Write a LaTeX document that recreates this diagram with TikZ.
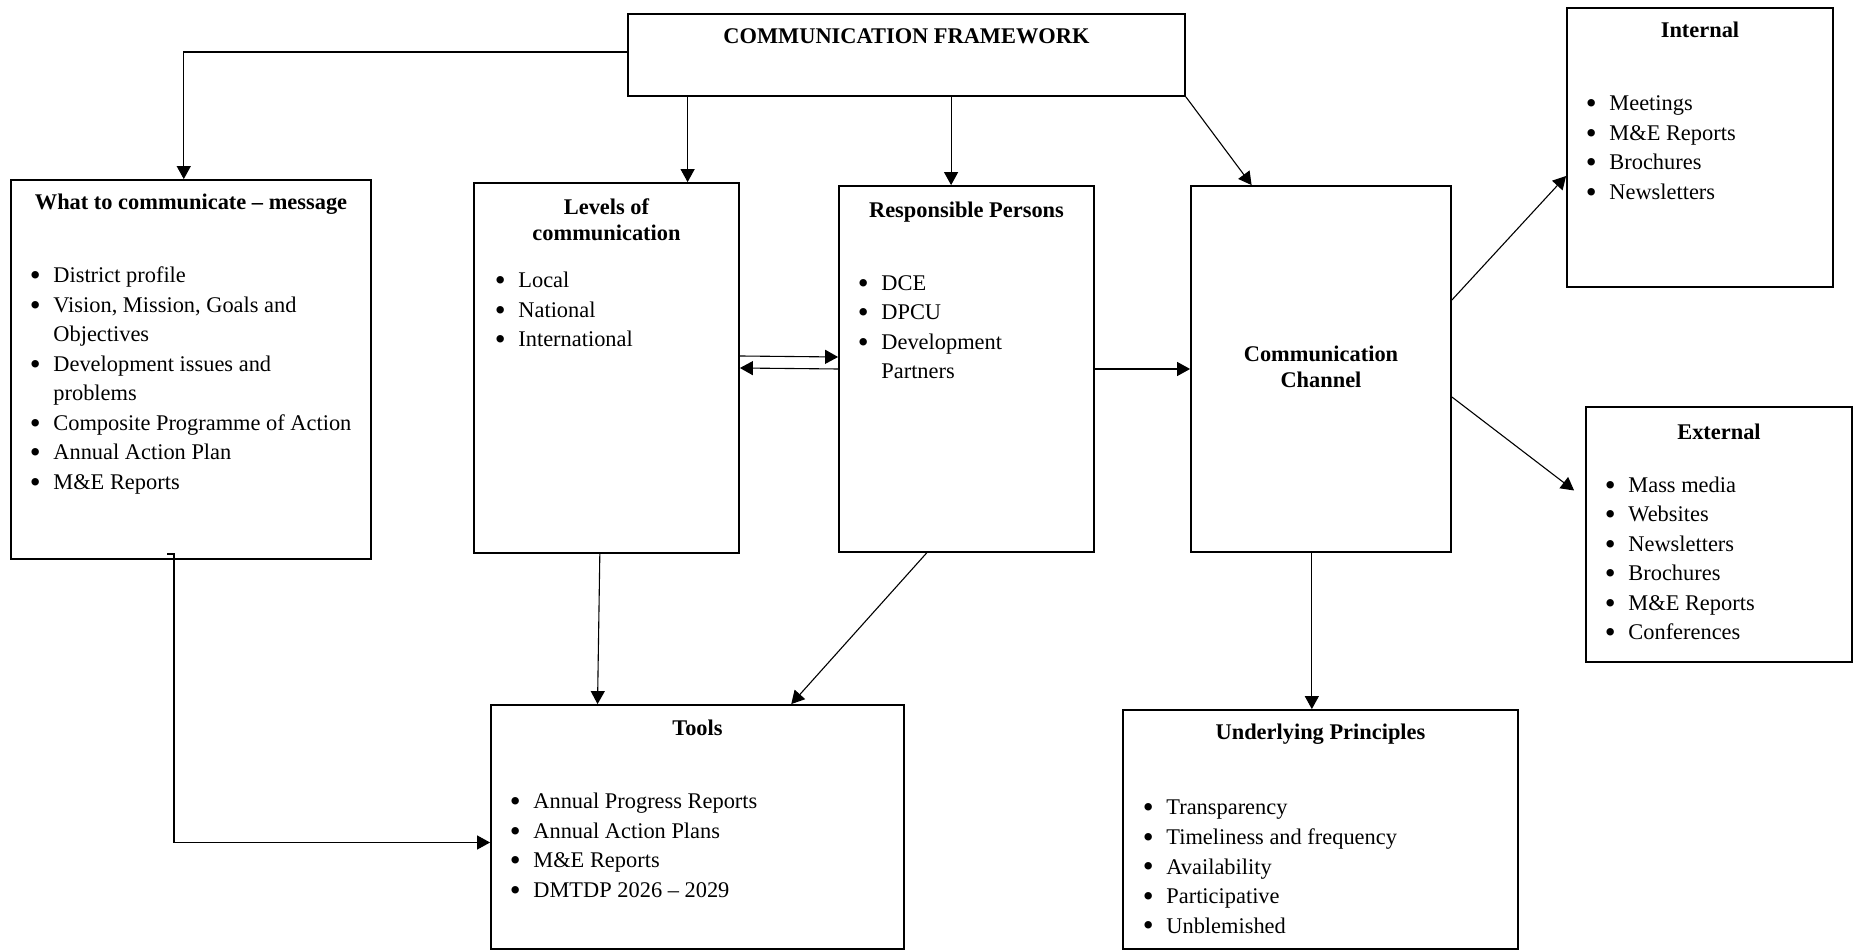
\documentclass[tikz,border=0pt]{standalone}
\usepackage{fontspec}
\setmainfont{Liberation Serif}
\usetikzlibrary{arrows.meta,fit,calc}
\newcommand{\blt}{\llap{\raisebox{-1.5pt}{\fontsize{15.5pt}{15.5pt}\selectfont\textbullet}\hspace{6.3pt}}}
\begin{document}
\begin{tikzpicture}[x=0.5pt,y=-0.5pt,
  box/.style={draw, line width=0.9pt, inner sep=0pt},
  conn/.style={line width=0.55pt, -{Triangle[length=6.5pt,width=7pt]}},
  ttl/.style={anchor=base, inner sep=0pt, font=\fontsize{11.2pt}{12.75pt}\selectfont\bfseries},
  lst/.style={anchor=base west, inner sep=0pt, font=\fontsize{11.2pt}{14.75pt}\selectfont}]
\useasboundingbox[fill=white] (0,0) rectangle (1854,951);

% boxes
\node[box, fit={(628,14) (1185,96)}] (top) {};
\node[box, fit={(11,180) (371,559)}] (msg) {};
\node[box, fit={(474,183) (739,553)}] (lev) {};
\node[box, fit={(839,186) (1094,552)}] (res) {};
\node[box, fit={(1191,186) (1451,552)}] (chn) {};
\node[box, fit={(1567,8) (1833,287)}] (int) {};
\node[box, fit={(1586,407) (1852,662)}] (ext) {};
\node[box, fit={(491,705) (904,949)}] (tool) {};
\node[box, fit={(1123,710) (1518,949)}] (und) {};

% titles
\node[ttl] (topt) at (906.5,44) {COMMUNICATION FRAMEWORK};
\node[ttl] (msgt) at (191,210) {What to communicate – message};
\node[ttl] (levt) at (606.5,215) {\begin{tabular}[t]{@{}c@{}}Levels of\\communication\end{tabular}};
\node[ttl] (rest) at (966.5,218) {Responsible Persons};
\node[ttl] (chnt) at (1321,362) {\begin{tabular}[t]{@{}c@{}}Communication\\Channel\end{tabular}};
\node[ttl] (intt) at (1700,38) {Internal};
\node[ttl] (extt) at (1719,440) {External};
\node[ttl] (toolt) at (697.5,736) {Tools};
\node[ttl] (undt) at (1320.5,740) {Underlying Principles};

% lists
\node[lst] (msgl) at (53,283) {\begin{tabular}[t]{@{}l@{}}
\blt District profile\\
\blt Vision, Mission, Goals and\\
Objectives\\
\blt Development issues and\\
problems\\
\blt Composite Programme of Action\\
\blt Annual Action Plan\\
\blt M\&E Reports\end{tabular}};
\node[lst] (levl) at (518,288) {\begin{tabular}[t]{@{}l@{}}
\blt Local\\
\blt National\\
\blt International\end{tabular}};
\node[lst] (resl) at (881,290.5) {\begin{tabular}[t]{@{}l@{}}
\blt DCE\\
\blt DPCU\\
\blt Development\\
Partners\end{tabular}};
\node[lst] (intl) at (1609,111) {\begin{tabular}[t]{@{}l@{}}
\blt Meetings\\
\blt M\&E Reports\\
\blt Brochures\\
\blt Newsletters\end{tabular}};
\node[lst] (extl) at (1628,492.5) {\begin{tabular}[t]{@{}l@{}}
\blt Mass media\\
\blt Websites\\
\blt Newsletters\\
\blt Brochures\\
\blt M\&E Reports\\
\blt Conferences\end{tabular}};
\node[lst] (tooll) at (533,809) {\begin{tabular}[t]{@{}l@{}}
\blt Annual Progress Reports\\
\blt Annual Action Plans\\
\blt M\&E Reports\\
\blt DMTDP 2026 – 2029\end{tabular}};
\node[lst] (undl) at (1166,815) {\begin{tabular}[t]{@{}l@{}}
\blt Transparency\\
\blt Timeliness and frequency\\
\blt Availability\\
\blt Participative\\
\blt Unblemished\end{tabular}};

% connectors
\coordinate (p1) at ($(msg.north west)!0.48!(msg.north east)$);
\draw[conn] ([yshift=1.5pt]top.west) -| (p1);
\coordinate (p2) at ($(lev.north west)!0.804!(lev.north east)$);
\draw[conn] (p2 |- top.south) -- (p2);
\coordinate (p3) at ($(res.north west)!0.44!(res.north east)$);
\draw[conn] (p3 |- top.south) -- (p3);
\coordinate (p4) at ($(chn.north west)!0.235!(chn.north east)$);
\draw[conn] (top.south east) -- (p4);
\draw[conn] ([yshift=6pt]lev.east) -- ([yshift=6pt]res.west);
\draw[conn] (res.west) -- (lev.east);
\draw[conn] (res.east) -- (chn.west);
\draw[conn] ([yshift=34.5pt]chn.east) -- ([yshift=-14.25pt]int.west);
\draw[conn] ([yshift=-14pt]chn.east) -- ([xshift=-5.5pt,yshift=22pt]ext.west);
\coordinate (p5) at ($(chn.south west)!0.465!(chn.south east)$);
\draw[conn] (p5) -- (p5 |- und.north);
\draw[conn] ($(lev.south west)!0.475!(lev.south east)$) -- ($(tool.north west)!0.259!(tool.north east)$);
\draw[conn] ($(res.south west)!0.345!(res.south east)$) -- ($(tool.north west)!0.726!(tool.north east)$);
\coordinate (hook) at (167,554);
\draw[conn] (hook) -- ++(7,0) |- ([yshift=-7.75pt]tool.west);
\end{tikzpicture}
\end{document}
